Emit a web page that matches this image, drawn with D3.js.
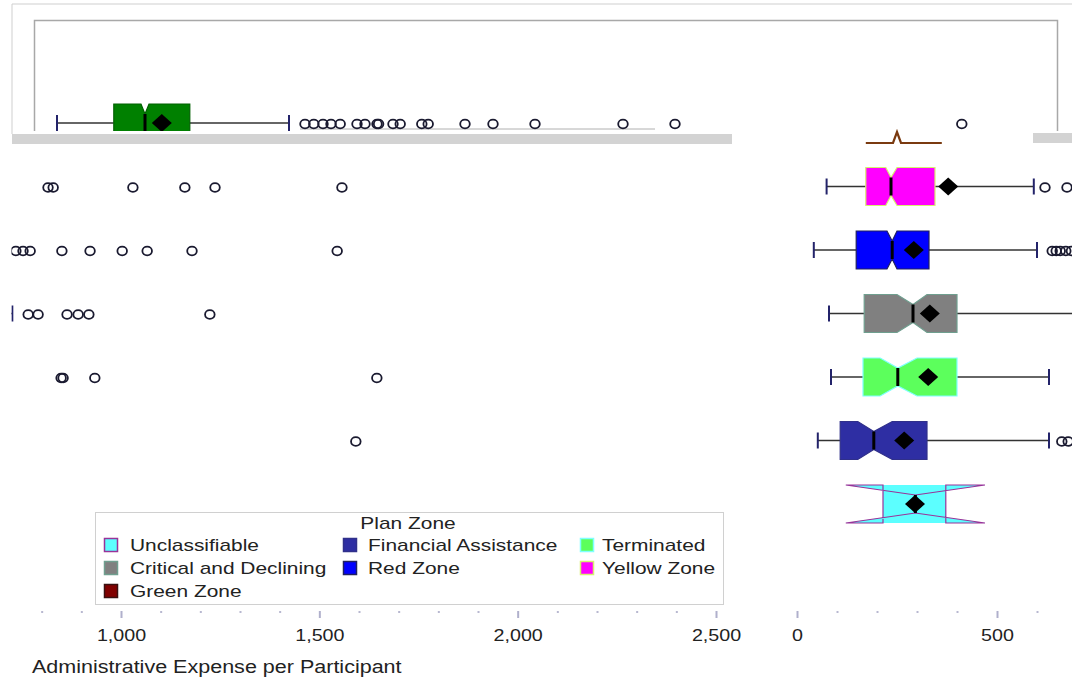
<!DOCTYPE html>
<html>
<head>
<meta charset="utf-8">
<script src="https://cdn.jsdelivr.net/npm/d3@7"></script>
<style>
  body { margin: 0; background: #fff; }
  svg { font-family: "Liberation Sans", Arial, sans-serif; display: block; }
</style>
</head>
<body>
<div id="chart"></div>
<script>
// box statistics per plan zone (administrative expense per participant)
const zones       = ["Green Zone", "Yellow Zone", "Red Zone", "Critical and Declining", "Terminated", "Financial Assistance", "Unclassifiable"];
const whiskerLow  = [30, 74, 42, 80, 85, 52, 215];
const q1          = [172, 172, 148, 168, 165, 108, 215];
const notchLow    = [240, 222, 225, 250, 208, 152, 122];
const medians     = [250, 235, 238, 290, 252, 192, 296];
const notchHigh   = [260, 250, 250, 325, 300, 238, 470];
const q3          = [362, 345, 330, 400, 400, 325, 372];
const whiskerHigh = [610, 592, 600, 726, 630, 630, 372];
const means       = [292, 378, 292, 332, 328, 268, 295];
const outliers = [
  [650, 672, 695, 715, 738, 780, 800, 830, 834, 870, 888, 942, 958, 1050, 1120, 1225, 1445, 1575, 2292],
  [620, 675, 816, 829, 1030, 1161, 1237, 1557],
  [638, 648, 658, 672, 686, 735, 753, 771, 851, 922, 1003, 1066, 1179, 1545],
  [766, 791, 864, 892, 919, 1224],
  [849, 854, 934, 1645],
  [662, 678, 1592],
  []
];

// legend
const legendOrder = ["Unclassifiable", "Financial Assistance", "Terminated",
                     "Critical and Declining", "Red Zone", "Yellow Zone", "Green Zone"];

// ticks
const leftMajor  = [1000, 1500, 2000, 2500];
const leftMinor  = [800, 900, 1100, 1200, 1300, 1400, 1600, 1700, 1800, 1900, 2100, 2200, 2300, 2400];
const rightMajor = [0, 500];
const rightMinor = [100, 200, 300, 400, 600];

// styles
const fills = {
  "Green Zone": "#800000", "Yellow Zone": "#ff00ff", "Red Zone": "#0000ff",
  "Critical and Declining": "#808080", "Terminated": "#5cff5c",
  "Financial Assistance": "#2e2ea3", "Unclassifiable": "#5cffff"
};
const strokes = {
  "Green Zone": "#3a1010", "Yellow Zone": "#d8f070", "Red Zone": "#202060",
  "Critical and Declining": "#6f9f8f", "Terminated": "#80ffff",
  "Financial Assistance": "#30308a", "Unclassifiable": "#993399"
};
const topFill = "#008000";
const SX = 1.23;   // text is drawn a little wide, like the original

const W = 1072, H = 678;
const svg = d3.select("#chart").append("svg").attr("width", W).attr("height", H);
const defs = svg.append("defs");
function clip(id, x, y, w, h) {
  defs.append("clipPath").attr("id", id).append("rect")
    .attr("x", x).attr("y", y).attr("width", w).attr("height", h);
}
clip("cTop", 12, 0, 1060, 131);
clip("cLeft", 11.5, 145, 724, 470);
clip("cRight", 790, 145, 282, 470);
clip("cLeftAxis", 11.5, 600, 735, 78);

// scales
const topX = d3.scaleLinear().domain([0, 2500]).range([45, 1045]);
const xL = d3.scaleLinear().domain([1000, 2500]).range([121, 716]);
const xR = d3.scaleLinear().domain([0, 500]).range([797, 997]);
const y = d3.scalePoint().domain(zones).range([123, 504]);

const HALF = 19, INSET = 10;

function drawZone(g, x, i, fill, stroke) {
  const yc = y(zones[i]);
  const line = d3.line();
  // whiskers
  if (whiskerLow[i] < q1[i]) {
    g.append("line").attr("x1", x(whiskerLow[i])).attr("x2", x(q1[i]))
      .attr("y1", yc).attr("y2", yc).attr("stroke", "#333").attr("stroke-width", 1.5);
    g.append("line").attr("x1", x(whiskerLow[i])).attr("x2", x(whiskerLow[i]))
      .attr("y1", yc - 8).attr("y2", yc + 8).attr("stroke", "#23236a").attr("stroke-width", 2);
  }
  if (whiskerHigh[i] > q3[i]) {
    g.append("line").attr("x1", x(q3[i])).attr("x2", x(whiskerHigh[i]))
      .attr("y1", yc).attr("y2", yc).attr("stroke", "#333").attr("stroke-width", 1.5);
    g.append("line").attr("x1", x(whiskerHigh[i])).attr("x2", x(whiskerHigh[i]))
      .attr("y1", yc - 8).attr("y2", yc + 8).attr("stroke", "#23236a").attr("stroke-width", 2);
  }
  // notched box; when the notch reaches past the hinges the whole box is filled too
  if (notchLow[i] < q1[i] || notchHigh[i] > q3[i]) {
    g.append("rect").attr("x", x(q1[i])).attr("y", yc - HALF)
      .attr("width", x(q3[i]) - x(q1[i])).attr("height", 2 * HALF).attr("fill", fill);
  }
  const pts = [
    [x(q1[i]), yc - HALF], [x(notchLow[i]), yc - HALF], [x(medians[i]), yc - HALF + INSET],
    [x(notchHigh[i]), yc - HALF], [x(q3[i]), yc - HALF], [x(q3[i]), yc + HALF],
    [x(notchHigh[i]), yc + HALF], [x(medians[i]), yc + HALF - INSET],
    [x(notchLow[i]), yc + HALF], [x(q1[i]), yc + HALF]
  ];
  g.append("path").attr("d", line(pts) + "Z")
    .attr("fill", fill).attr("stroke", stroke).attr("stroke-width", 1.2);
  // median
  g.append("line").attr("x1", x(medians[i])).attr("x2", x(medians[i]))
    .attr("y1", yc - HALF + INSET).attr("y2", yc + HALF - INSET)
    .attr("stroke", "#000").attr("stroke-width", 3);
  // mean
  const mx = x(means[i]);
  g.append("path").attr("d", line([[mx - 10, yc], [mx, yc - 9], [mx + 10, yc], [mx, yc + 9]]) + "Z")
    .attr("fill", "#000");
  // outliers
  g.selectAll(null).data(outliers[i]).enter().append("ellipse")
    .attr("cx", d => x(d)).attr("cy", yc + 1).attr("rx", 4.8).attr("ry", 4.3)
    .attr("fill", "none").attr("stroke", "#1a1a30").attr("stroke-width", 1.8);
}

// ---- top panel (Green Zone row) ----
svg.append("path").attr("d", "M12,134V4H1072").attr("fill", "none").attr("stroke", "#cfcfcf");
svg.append("path").attr("d", "M34.5,131V20.5H1057.5V131").attr("fill", "none").attr("stroke", "#a8a8a8").attr("stroke-width", 1.5);
const gTop = svg.append("g").attr("clip-path", "url(#cTop)");
gTop.append("line").attr("x1", 300).attr("x2", 655).attr("y1", 129).attr("y2", 129)
  .attr("stroke", "#b0b0b0");
drawZone(gTop, topX, 0, topFill, "#006000");
svg.append("rect").attr("x", 12).attr("y", 134).attr("width", 720).attr("height", 10).attr("fill", "#d3d3d3");
svg.append("rect").attr("x", 1033).attr("y", 133).attr("width", 39).attr("height", 10).attr("fill", "#d3d3d3");

// what is left of the Green Zone box in the right panel: its lower edge
{
  const i = 0, yb = y(zones[0]) + HALF + 1;
  svg.append("path").attr("d", d3.line()([
      [xR(q1[i]), yb], [xR(notchLow[i]), yb], [xR(medians[i]), yb - 11],
      [xR(notchHigh[i]), yb], [xR(q3[i]), yb]]))
    .attr("fill", "none").attr("stroke", "#7a3a10").attr("stroke-width", 2.2);
}

// ---- lower panels ----
const gLeft = svg.append("g").attr("clip-path", "url(#cLeft)");
const gRight = svg.append("g").attr("clip-path", "url(#cRight)");
for (let i = 1; i < zones.length; i++) {
  drawZone(gLeft, xL, i, fills[zones[i]], strokes[zones[i]]);
  drawZone(gRight, xR, i, fills[zones[i]], strokes[zones[i]]);
}

// ---- axes ----
function axis(x, major, minor, clipId) {
  const outer = svg.append("g");
  if (clipId) outer.attr("clip-path", `url(#${clipId})`);
  const g = outer.append("g").attr("transform", "translate(0,611)");
  const gMin = g.append("g").call(d3.axisBottom(x).tickValues(minor).tickSize(2).tickFormat(""));
  gMin.select(".domain").remove();
  gMin.selectAll("line").attr("stroke", "#b8b8d0").attr("stroke-width", 2);
  const gMaj = g.append("g").call(d3.axisBottom(x).tickValues(major).tickSize(7)
    .tickPadding(12).tickFormat(d3.format(",")));
  gMaj.select(".domain").remove();
  gMaj.selectAll("line").attr("stroke", "#b0b0cc").attr("stroke-width", 2);
  gMaj.selectAll("text").attr("font-size", 16).attr("fill", "#222")
    .attr("font-family", "Liberation Sans, Arial, sans-serif")
    .attr("transform", `scale(${SX},1)`);
}
axis(xL, leftMajor, leftMinor, "cLeftAxis");
axis(xR, rightMajor, rightMinor, null);

function label(txt, x, yy, size, anchor) {
  svg.append("text").attr("transform", `translate(${x},${yy}) scale(${SX},1)`)
    .attr("font-size", size).attr("fill", "#222").attr("text-anchor", anchor || "start")
    .text(txt);
}
label("Administrative Expense per Participant", 32, 673, 17.5);

// ---- legend ----
svg.append("rect").attr("x", 95.5).attr("y", 512.5).attr("width", 628).attr("height", 92)
  .attr("fill", "#fff").attr("stroke", "#d0d0d0");
label("Plan Zone", 408, 529, 17, "middle");
const colSw = [104, 343, 580], colTx = [130, 368, 602], rowY = [545, 568, 591];
legendOrder.forEach((z, k) => {
  const c = k % 3, r = Math.floor(k / 3);
  svg.append("rect").attr("x", colSw[c] + 0.5).attr("y", rowY[r] - 6.5)
    .attr("width", 13).attr("height", 13)
    .attr("fill", fills[z]).attr("stroke", strokes[z]).attr("stroke-width", 1.5);
  label(z, colTx[c], rowY[r] + 6, 17);
});
</script>
</body>
</html>
